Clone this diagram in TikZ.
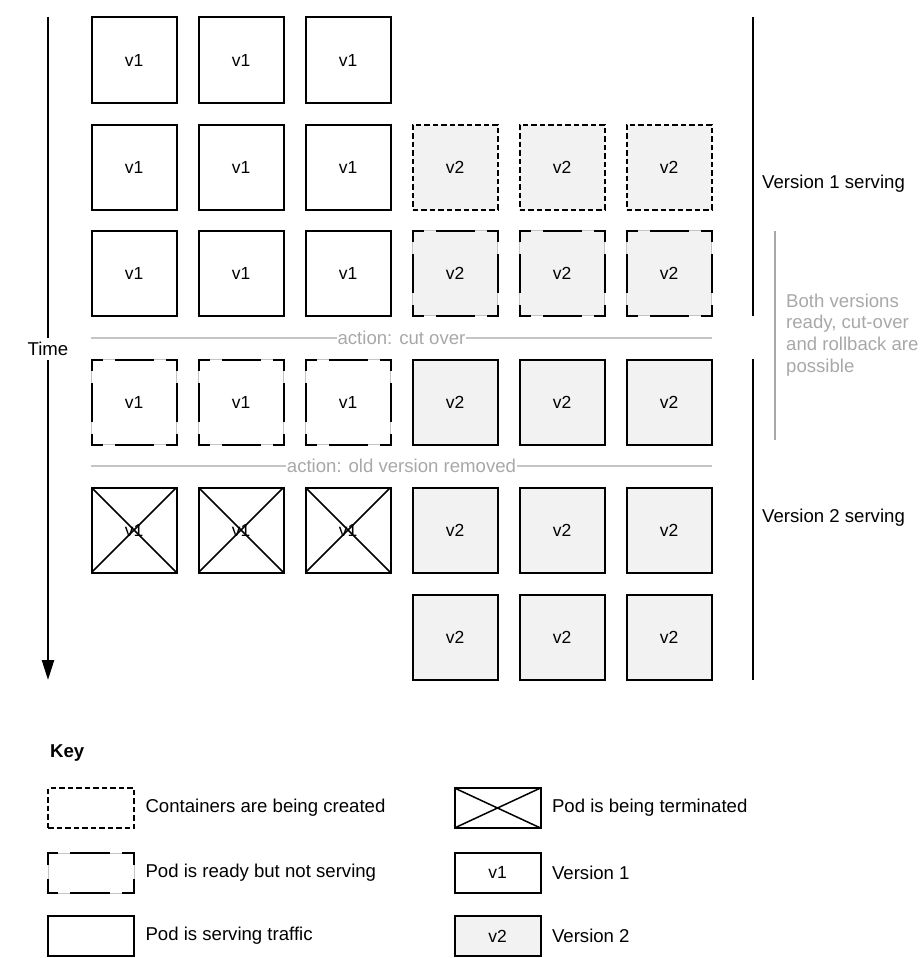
\documentclass[tikz,border=0pt]{standalone}
\usepackage{fontspec}
\setmainfont{Liberation Sans}
\usetikzlibrary{positioning,arrows.meta}
\definecolor{podFill}{HTML}{F2F2F2}
\definecolor{gapGrey}{HTML}{C4C4C4}
\definecolor{noteGrey}{HTML}{A8A8A8}

\begin{document}
\begin{tikzpicture}[x=1pt,y=-1pt,font=\fontsize{18.6}{21.7}\selectfont,
   pod/.style={draw,line width=2pt,minimum size=85pt,inner sep=0pt,outer sep=0pt,font=\fontsize{17.5}{20}\selectfont},
   new/.style={fill=podFill},
   creating/.style={pod,dash pattern=on 5.5pt off 3pt},
   readyh/.style={black,line width=2pt,line cap=rect,dash pattern=on 10pt off 14pt on 37pt off 14pt on 10pt off 0pt},
   readyv/.style={readyh},
   ready/.style={pod,draw=gapGrey,line width=0.8pt,append after command={
       (\tikzlastnode.north west) edge[readyh] (\tikzlastnode.north east)
       (\tikzlastnode.south west) edge[readyh] (\tikzlastnode.south east)
       (\tikzlastnode.north west) edge[readyv] (\tikzlastnode.south west)
       (\tikzlastnode.north east) edge[readyv] (\tikzlastnode.south east)}},
   xline/.style={line width=1.5pt},
   dying/.style={pod,append after command={
       (\tikzlastnode.north west) edge[xline] (\tikzlastnode.south east)
       (\tikzlastnode.north east) edge[xline] (\tikzlastnode.south west)}},
   keybox/.style={minimum width=86pt,minimum height=40pt},
   act/.style={text=noteGrey,inner xsep=0.5pt},
   actline/.style={draw=gapGrey,line width=2pt},
   span/.style={line width=1.5pt}]
\useasboundingbox (0,0) rectangle (923,958);
%% ---- time axis ----
\coordinate (t0) at (48,17);
\coordinate (t1) at (48,680);
\node[inner sep=4pt] (time) at (48,349) {Time};
\draw[line width=2.5pt] (t0) -- (time);
\draw[line width=2.5pt,-{Triangle[length=20pt,width=12pt]}] (time) -- (t1);
%% ---- step 1: only v1 ----
\node[pod] (a1) at (134,60) {v1};
\node[pod] (a2) at (241,60) {v1};
\node[pod] (a3) at (348,60) {v1};
%% ---- step 2: v2 containers starting ----
\node[pod] (b1) at (134,167) {v1};
\node[pod] (b2) at (241,167) {v1};
\node[pod] (b3) at (348,167) {v1};
\node[creating,new] (b4) at (455,167) {v2};
\node[creating,new] (b5) at (562,167) {v2};
\node[creating,new] (b6) at (669,167) {v2};
%% ---- step 3: v2 ready ----
\node[pod] (c1) at (134,273) {v1};
\node[pod] (c2) at (241,273) {v1};
\node[pod] (c3) at (348,273) {v1};
\node[ready,new] (c4) at (455,273) {v2};
\node[ready,new] (c5) at (562,273) {v2};
\node[ready,new] (c6) at (669,273) {v2};
%% ---- cut over ----
\coordinate (cutL) at (91,338);
\coordinate (cutR) at (712,338);
\node[act] (cut) at (401.5,338) {action: cut over};
\draw[actline] (cutL) -- (cut);
\draw[actline] (cut) -- (cutR);
%% ---- step 4: v2 serving, v1 idle ----
\node[ready] (d1) at (134,402) {v1};
\node[ready] (d2) at (241,402) {v1};
\node[ready] (d3) at (348,402) {v1};
\node[pod,new] (d4) at (455,402) {v2};
\node[pod,new] (d5) at (562,402) {v2};
\node[pod,new] (d6) at (669,402) {v2};
%% ---- removal ----
\coordinate (rmL) at (91,466);
\coordinate (rmR) at (712,466);
\node[act] (rm) at (401.5,466) {action: old version removed};
\draw[actline] (rmL) -- (rm);
\draw[actline] (rm) -- (rmR);
%% ---- step 5: v1 terminating ----
\node[dying] (e1) at (134,530) {v1};
\node[dying] (e2) at (241,530) {v1};
\node[dying] (e3) at (348,530) {v1};
\node[pod,new] (e4) at (455,530) {v2};
\node[pod,new] (e5) at (562,530) {v2};
\node[pod,new] (e6) at (669,530) {v2};
%% ---- step 6: only v2 ----
\node[pod,new] (f4) at (455,637) {v2};
\node[pod,new] (f5) at (562,637) {v2};
\node[pod,new] (f6) at (669,637) {v2};
%% ---- phases on the right ----
\coordinate (s1a) at (753,17);
\coordinate (s1b) at (753,316);
\coordinate (s2a) at (753,359);
\coordinate (s2b) at (753,680);
\coordinate (bothA) at (775,231);
\coordinate (bothB) at (775,440);
\draw[span] (s1a) -- (s1b);
\draw[span] (s2a) -- (s2b);
\draw[span,draw=noteGrey,line width=2pt] (bothA) -- (bothB);
\node[anchor=west,inner sep=0pt] (v1srv) at (762,184) {Version 1 serving};
\node[anchor=west,inner sep=0pt] (v2srv) at (762,518) {Version 2 serving};
\node[anchor=west,inner sep=0pt,align=left,text=noteGrey] (both) at (786,335)
  {Both versions\\ready, cut-over\\and rollback are\\possible};
%% ---- key ----
\node[anchor=west,inner sep=0pt,font=\fontsize{18.6}{21.7}\selectfont\bfseries] (key) at (50,753) {Key};
\node[creating,keybox] (k1) at (91,808) {};
\begin{scope}[readyh/.style={black,line width=2pt,line cap=rect,dash pattern=on 9pt off 14pt on 38pt off 14pt on 9pt off 0pt},
              readyv/.style={black,line width=2pt,line cap=rect,dash pattern=on 11pt off 16pt on 11pt off 0pt}]
\node[ready,keybox] (k2) at (91,873) {};
\end{scope}
\node[pod,keybox] (k3) at (91,936) {};
\node[right=8pt of k1] (k1t) {Containers are being created};
\node[right=8pt of k2] (k2t) {Pod is ready but not serving};
\node[right=8pt of k3] (k3t) {Pod is serving traffic};
\node[dying,keybox] (k4) at (497.5,808) {};
\node[pod,keybox] (k5) at (497.5,872.5) {v1};
\node[pod,keybox,new] (k6) at (497.5,936) {v2};
\node[right=8pt of k4] (k4t) {Pod is being terminated};
\node[right=8pt of k5] (k5t) {Version 1};
\node[right=8pt of k6] (k6t) {Version 2};
\end{tikzpicture}
\end{document}
